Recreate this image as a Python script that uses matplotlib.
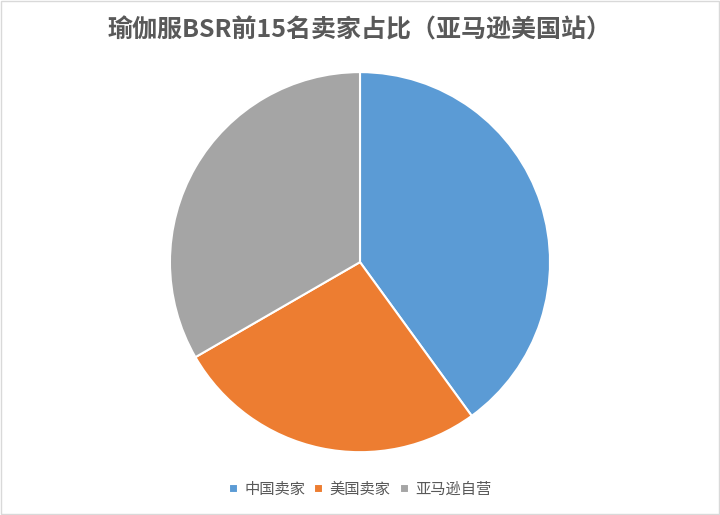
import matplotlib.pyplot as plt
from matplotlib.patches import Rectangle

plt.rcParams['font.family'] = ['Noto Sans CJK SC', 'DejaVu Sans']

# 数据：前15名卖家构成
labels = ['中国卖家', '美国卖家', '亚马逊自营']
counts = [6, 4, 5]
colors = ['#5B9BD5', '#ED7D31', '#A5A5A5']
title = '瑜伽服BSR前15名卖家占比（亚马逊美国站）'

fig = plt.figure(figsize=(7.2, 5.15), dpi=100)
fig.patches.append(Rectangle((0.001, 0.001), 0.998, 0.998, transform=fig.transFigure,
                             fill=False, edgecolor='#D9D9D9', linewidth=1))

ax = fig.add_axes([0.236, 0.122, 0.528, 0.738])
wedges, _ = ax.pie(counts, colors=colors, startangle=90, counterclock=False,
                   wedgeprops=dict(edgecolor='white', linewidth=1.5))
ax.set_xlim(-1, 1)
ax.set_ylim(-1, 1)
ax.set_aspect('equal')

fig.text(0.5, 0.942, title, ha='center', va='center', fontsize=18,
         fontweight='bold', color='#595959')

fig.legend(wedges, labels, loc='center', bbox_to_anchor=(0.5, 0.05), ncol=3,
           frameon=False, fontsize=11, labelcolor='#595959', handlelength=0.6,
           handleheight=0.6, handletextpad=0.4, columnspacing=0.6)

fig.savefig('out.png', dpi=100)
